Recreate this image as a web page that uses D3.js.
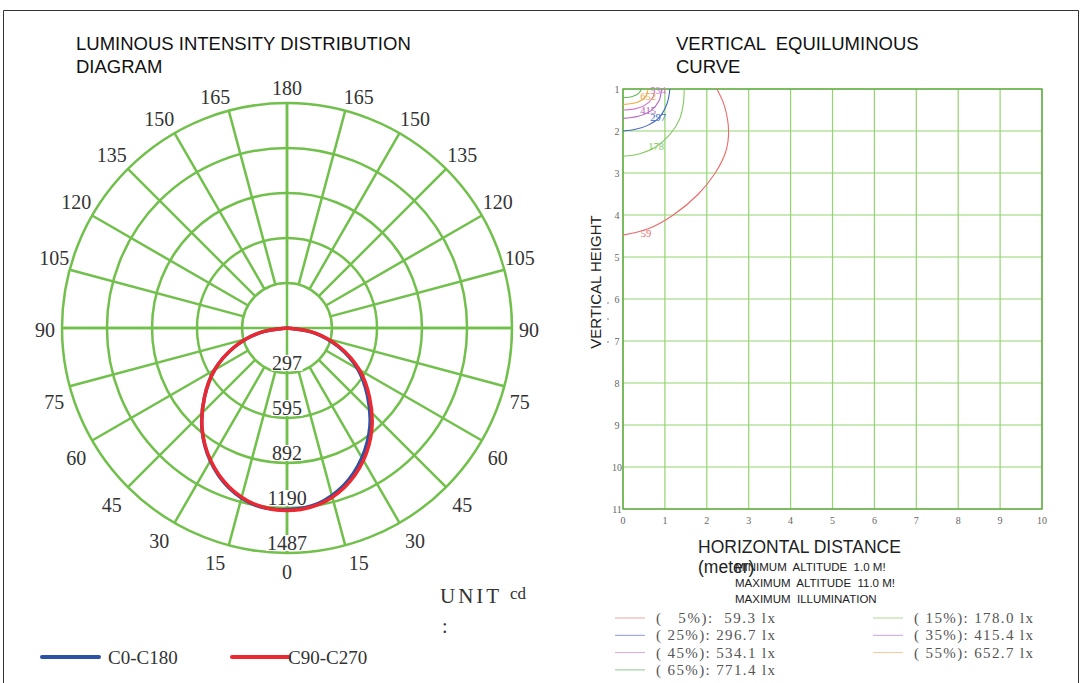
<!DOCTYPE html>
<html>
<head>
<meta charset="utf-8">
<script src="https://cdn.jsdelivr.net/npm/d3@7"></script>
<style>
body { margin: 0; background: #fff; }
svg { display: block; }
</style>
</head>
<body>
<div class="chart"></div>
<script>
// polar diagram
const ringValues = [297, 595, 892, 1190, 1487];
const angleLabels = [0, 15, 30, 45, 60, 75, 90, 105, 120, 135, 150, 165, 180];
const gammaAngles = [0, 10, 20, 30, 40, 50, 60, 70, 80, 90];
const c0Values = [1200, 1178, 1104, 990, 852, 694, 538, 362, 182, 0];
const c180Values = [1208, 1190, 1124, 1014, 874, 712, 552, 372, 186, 0];
const c90Values = [1206, 1186, 1118, 1010, 872, 712, 552, 372, 186, 0];
const c270Values = [1206, 1186, 1118, 1010, 872, 712, 552, 372, 186, 0];

// equiluminous curve
const heightTicks = [1, 2, 3, 4, 5, 6, 7, 8, 9, 10, 11];
const distanceTicks = [0, 1, 2, 3, 4, 5, 6, 7, 8, 9, 10];
const contourNames = ["59", "178", "297", "415", "534", "652", "771"];
const contour59 = [[2.24, 1.0], [2.42, 1.4], [2.52, 2.0], [2.45, 2.5], [2.2, 3.0], [1.8, 3.5], [1.2, 4.0], [0.6, 4.33], [0, 4.48]];
const contour178 = [[1.46, 1.0], [1.44, 1.35], [1.35, 1.72], [1.12, 2.08], [0.78, 2.38], [0.4, 2.54], [0, 2.6]];
const contour297 = [[1.12, 1.0], [1.05, 1.35], [0.86, 1.68], [0.6, 1.86], [0.3, 1.96], [0, 2.0]];
const contour415 = [[0.92, 1.0], [0.86, 1.28], [0.66, 1.52], [0.36, 1.65], [0, 1.7]];
const contour534 = [[0.76, 1.0], [0.7, 1.22], [0.5, 1.4], [0.25, 1.48], [0, 1.5]];
const contour652 = [[0.6, 1.0], [0.54, 1.18], [0.36, 1.31], [0, 1.37]];
const contour771 = [[0.44, 1.0], [0.38, 1.1], [0.22, 1.18], [0, 1.21]];
const contourLabelAt = [[0.55, 4.43], [0.79, 2.38], [0.84, 1.69], [0.6, 1.5], [0.84, 1.03], [0.6, 1.17], null];
const legendPercent = ["  5%", "15%", "25%", "35%", "45%", "55%", "65%"];
const legendLux = [" 59.3", "178.0", "296.7", "415.4", "534.1", "652.7", "771.4"];

const gridGreen = "#72c04c";
const contourColors = ["#ec6a6a", "#86c864", "#3f66c6", "#b266c4", "#d27ccc", "#f2a640", "#64ba54"];
const legendColors = ["#f2a4a4", "#add994", "#8a98d2", "#c6a6d8", "#d8a8d8", "#f5c898", "#8cc98a"];
const serif = "'Liberation Serif', 'Times New Roman', serif";
const sans = "'Liberation Sans', Arial, sans-serif";

function drawPolar(svg) {
    const cx = 287, cy = 328, R = 225;
    const r = d3.scaleLinear().domain([0, 1487]).range([0, R]);
    const g = svg.append("g").attr("transform", `translate(${cx},${cy})`);

    g.selectAll("circle.ring")
        .data(ringValues)
        .enter()
        .append("circle")
        .attr("r", d => r(d))
        .attr("fill", "none")
        .attr("stroke", gridGreen)
        .attr("stroke-width", 2.5);

    const spokes = d3.range(0, 360, 15);
    g.selectAll("line.spoke")
        .data(spokes)
        .enter()
        .append("line")
        .attr("x1", d => r(ringValues[0]) * Math.sin(d * Math.PI / 180))
        .attr("y1", d => r(ringValues[0]) * Math.cos(d * Math.PI / 180))
        .attr("x2", d => R * Math.sin(d * Math.PI / 180))
        .attr("y2", d => R * Math.cos(d * Math.PI / 180))
        .attr("stroke", gridGreen)
        .attr("stroke-width", 2.5);

    g.append("line").attr("x1", -R).attr("x2", R).attr("y1", 0).attr("y2", 0)
        .attr("stroke", gridGreen).attr("stroke-width", 2.5);
    g.append("line").attr("x1", 0).attr("x2", 0).attr("y1", -R).attr("y2", R)
        .attr("stroke", gridGreen).attr("stroke-width", 2.5);

    // angle labels on both sides, nudged off the spokes
    const sides = [];
    angleLabels.forEach(a => {
        sides.push({ a: a, s: 1 });
        if (a !== 0 && a !== 180) sides.push({ a: a, s: -1 });
    });
    function labelPos(d) {
        const t = d.a <= 90 ? d.a : 180 - d.a;
        const adj = 2.5 * Math.cos(2 * t * Math.PI / 180);
        const t2 = (t + (t === 0 || t === 90 ? 0 : adj)) * Math.PI / 180;
        const rr = 242 + 6 * Math.pow(Math.sin(2 * t * Math.PI / 180), 2);
        const px = d.s * rr * Math.sin(t2);
        const py = (d.a <= 90 ? 1 : -1) * rr * Math.cos(t2) + 2;
        return [px, py];
    }
    g.selectAll("text.angle")
        .data(sides)
        .enter()
        .append("text")
        .attr("x", d => labelPos(d)[0])
        .attr("y", d => labelPos(d)[1] + 7)
        .attr("text-anchor", "middle")
        .style("font-family", serif)
        .style("font-size", "20px")
        .style("fill", "#333")
        .text(d => d.a);

    const lab = g.selectAll("g.ringlabel")
        .data(ringValues)
        .enter()
        .append("g");
    lab.append("rect")
        .attr("x", d => -String(d).length * 5.2)
        .attr("y", d => r(d) - 18)
        .attr("width", d => String(d).length * 10.4)
        .attr("height", 16)
        .attr("fill", "#fff");
    lab.append("text")
        .attr("x", 0)
        .attr("y", d => r(d) - 3)
        .attr("text-anchor", "middle")
        .style("font-family", serif)
        .style("font-size", "20px")
        .style("fill", "#333")
        .text(d => d);

    const radial = d3.lineRadial()
        .angle(d => d[0])
        .radius(d => r(d[1]))
        .curve(d3.curveCatmullRom);

    function plane(rightVals, leftVals) {
        const pts = [];
        for (let i = gammaAngles.length - 1; i >= 0; i--) {
            pts.push([Math.PI - gammaAngles[i] * Math.PI / 180, rightVals[i]]);
        }
        for (let i = 1; i < gammaAngles.length; i++) {
            pts.push([Math.PI + gammaAngles[i] * Math.PI / 180, leftVals[i]]);
        }
        return pts;
    }

    g.append("path")
        .attr("d", radial(plane(c0Values, c180Values)))
        .attr("fill", "none")
        .attr("stroke", "#2b52a6")
        .attr("stroke-width", 3.5);
    g.append("path")
        .attr("d", radial(plane(c90Values, c270Values)))
        .attr("fill", "none")
        .attr("stroke", "#ec2830")
        .attr("stroke-width", 3.5);

    // unit + legend
    svg.append("text").attr("x", 440).attr("y", 603)
        .style("font-family", serif).style("font-size", "21px")
        .style("letter-spacing", "3px").style("fill", "#333").text("UNIT");
    svg.append("text").attr("x", 510).attr("y", 599)
        .style("font-family", serif).style("font-size", "17px")
        .style("fill", "#333").text("cd");
    svg.append("text").attr("x", 442).attr("y", 633)
        .style("font-family", serif).style("font-size", "20px")
        .style("fill", "#333").text(":");

    const legend = [
        { name: "C0-C180", color: "#2b52a6", x: 42, tx: 108 },
        { name: "C90-C270", color: "#ec2830", x: 232, tx: 288 }
    ];
    const lg = svg.selectAll("g.legend").data(legend).enter().append("g");
    lg.append("line")
        .attr("x1", d => d.x).attr("x2", d => d.x + 57)
        .attr("y1", 657).attr("y2", 657)
        .attr("stroke", d => d.color)
        .attr("stroke-width", 4)
        .attr("stroke-linecap", "round");
    lg.append("text")
        .attr("x", d => d.tx)
        .attr("y", 664)
        .style("font-family", serif)
        .style("font-size", "19px")
        .style("fill", "#333")
        .text(d => d.name);
}

function drawCurve(svg) {
    const x = d3.scaleLinear().domain([0, 10]).range([623, 1042]);
    const y = d3.scaleLinear().domain([1, 11]).range([89, 509]);

    svg.append("g").selectAll("line")
        .data(distanceTicks)
        .enter()
        .append("line")
        .attr("x1", d => x(d)).attr("x2", d => x(d))
        .attr("y1", y(1)).attr("y2", y(11))
        .attr("stroke", "#93d56f")
        .attr("stroke-width", 1.2);
    svg.append("g").selectAll("line")
        .data(heightTicks)
        .enter()
        .append("line")
        .attr("x1", x(0)).attr("x2", x(10))
        .attr("y1", d => y(d)).attr("y2", d => y(d))
        .attr("stroke", "#93d56f")
        .attr("stroke-width", 1.2);
    svg.append("rect")
        .attr("x", x(0)).attr("y", y(1))
        .attr("width", x(10) - x(0)).attr("height", y(11) - y(1))
        .attr("fill", "none")
        .attr("stroke", "#5ea842")
        .attr("stroke-width", 1.4);

    svg.append("g").selectAll("text")
        .data(heightTicks)
        .enter()
        .append("text")
        .attr("x", 617).attr("y", d => y(d) + 4)
        .attr("text-anchor", "middle")
        .style("font-family", serif).style("font-size", "10px").style("fill", "#666")
        .text(d => d);
    svg.append("g").selectAll("text")
        .data(distanceTicks)
        .enter()
        .append("text")
        .attr("x", d => x(d)).attr("y", 524)
        .attr("text-anchor", "middle")
        .style("font-family", serif).style("font-size", "10px").style("fill", "#666")
        .text(d => d);

    const contours = [contour59, contour178, contour297, contour415, contour534, contour652, contour771];
    const line = d3.line()
        .x(d => x(d[0]))
        .y(d => y(d[1]))
        .curve(d3.curveCatmullRom);
    svg.append("g").selectAll("path")
        .data(contours)
        .enter()
        .append("path")
        .attr("d", d => line(d))
        .attr("fill", "none")
        .attr("stroke", (d, i) => contourColors[i])
        .attr("stroke-width", 1.1);

    svg.append("g").selectAll("text")
        .data(contourNames.filter((d, i) => contourLabelAt[i]))
        .enter()
        .append("text")
        .attr("x", (d, i) => x(contourLabelAt[i][0]))
        .attr("y", (d, i) => y(contourLabelAt[i][1]) + 3.5)
        .attr("text-anchor", "middle")
        .style("font-family", serif).style("font-size", "10.5px")
        .style("fill", (d, i) => contourColors[i])
        .text(d => d);

    svg.append("text")
        .attr("transform", "translate(601,282) rotate(-90)")
        .attr("text-anchor", "middle")
        .style("font-family", sans).style("font-size", "15px").style("fill", "#222")
        .text("VERTICAL HEIGHT");
    [303, 319, 342].forEach(v => {
        svg.append("circle").attr("cx", 608).attr("cy", v).attr("r", 0.8).attr("fill", "#777");
    });

    svg.append("text").attr("x", 698).attr("y", 553)
        .style("font-family", sans).style("font-size", "17.5px").style("fill", "#222")
        .text("HORIZONTAL DISTANCE");
    svg.append("text").attr("x", 698).attr("y", 573)
        .style("font-family", sans).style("font-size", "17.5px").style("fill", "#222")
        .text("(meter)");

    const notes = ["MINIMUM  ALTITUDE  1.0 M!", "MAXIMUM  ALTITUDE  11.0 M!", "MAXIMUM  ILLUMINATION"];
    svg.append("g").selectAll("text")
        .data(notes)
        .enter()
        .append("text")
        .attr("x", 735)
        .attr("y", (d, i) => 571 + i * 16)
        .style("font-family", sans).style("font-size", "11.5px").style("fill", "#222")
        .style("white-space", "pre")
        .text(d => d);

    const items = legendPercent.map((p, i) => ({ p: p, lux: legendLux[i], color: legendColors[i], col: i % 2, row: Math.floor(i / 2) }));
    const li = svg.append("g").selectAll("g")
        .data(items)
        .enter()
        .append("g")
        .attr("transform", d => `translate(${d.col ? 873 : 615},${618 + d.row * 17.3})`);
    li.append("line")
        .attr("x1", 0).attr("x2", 30)
        .attr("stroke", d => d.color)
        .attr("stroke-width", 1);
    li.append("text")
        .attr("x", 41)
        .attr("y", 5)
        .attr("textLength", 119)
        .attr("lengthAdjust", "spacing")
        .style("font-family", serif).style("font-size", "15px").style("fill", "#555")
        .style("white-space", "pre")
        .text(d => `( ${d.p}): ${d.lux} lx`);
}

function display() {
    const svg = d3.select(".chart")
        .append("svg")
        .attr("width", 1082)
        .attr("height", 683);

    svg.append("rect").attr("width", 1082).attr("height", 683).attr("fill", "#fff");
    svg.append("path")
        .attr("d", "M3.5,683 L3.5,10.5 L1078.5,10.5 L1078.5,683")
        .attr("fill", "none")
        .attr("stroke", "#333")
        .attr("stroke-width", 1);

    const titles = [
        { t: "LUMINOUS INTENSITY DISTRIBUTION", x: 76, y: 50 },
        { t: "DIAGRAM", x: 76, y: 73 },
        { t: "VERTICAL  EQUILUMINOUS", x: 676, y: 50 },
        { t: "CURVE", x: 676, y: 73 }
    ];
    svg.selectAll("text.title")
        .data(titles)
        .enter()
        .append("text")
        .attr("x", d => d.x)
        .attr("y", d => d.y)
        .style("font-family", sans)
        .style("font-size", "18.5px")
        .style("fill", "#111")
        .style("white-space", "pre")
        .text(d => d.t);

    drawPolar(svg);
    drawCurve(svg);
}

window.onload = function() {
    display();
};
</script>
</body>
</html>
